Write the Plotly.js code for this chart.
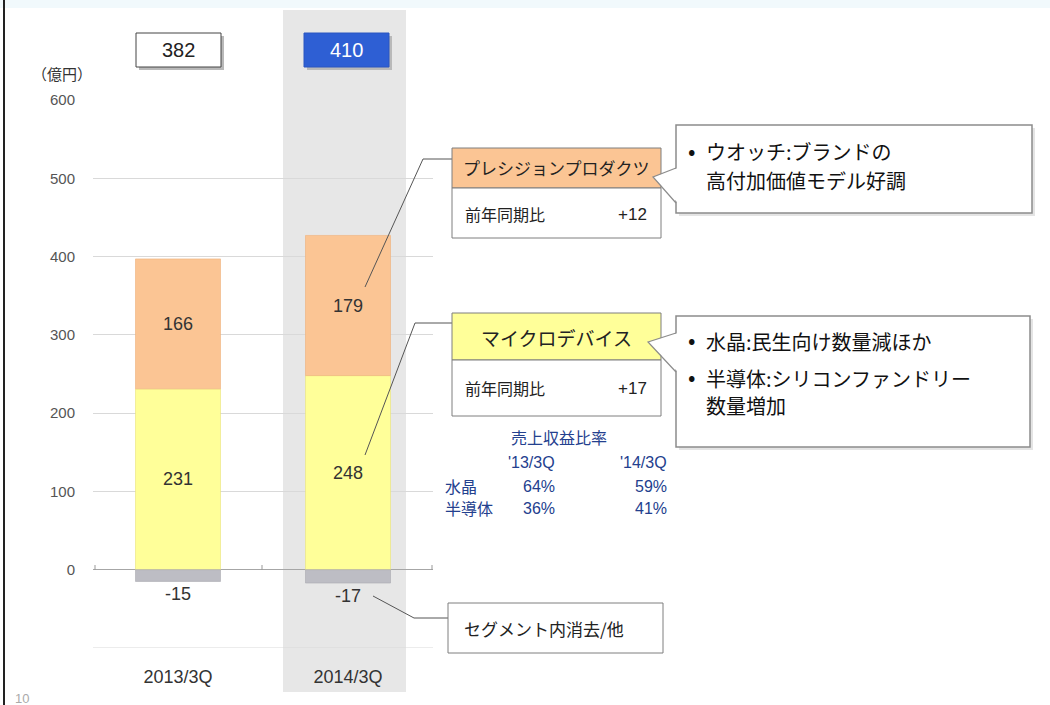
<!DOCTYPE html>
<html>
<head>
<meta charset="utf-8">
<script src="https://cdn.plot.ly/plotly-3.0.1.min.js"></script>
<style>html,body{margin:0;padding:0;background:#fff;}#chart{width:1050px;height:705px;}</style>
</head>
<body>
<div id="chart"></div>
<script>
// ---- data ----
const categories = ['2013/3Q', '2014/3Q'];
const microDevices = [231, 248];
const precisionProducts = [166, 179];
const elimination = [-15, -17];
const totals = [382, 410];
const yTickVals = [-100, 0, 100, 200, 300, 400, 500, 600];
const yTickText = ['', '0', '100', '200', '300', '400', '500', '600'];
const yUnit = '（億円）';
const segPrecision = 'プレシジョンプロダクツ';
const segMicro = 'マイクロデバイス';
const yoyLabel = '前年同期比';
const yoyPrecision = '+12';
const yoyMicro = '+17';
const noteElim = 'セグメント内消去/他';
const notePrecision = ['ウオッチ:ブランドの', '高付加価値モデル好調'];
const noteMicro = ['水晶:民生向け数量減ほか', '半導体:シリコンファンドリー', '数量増加'];
const ratioTitle = '売上収益比率';
const ratioCols = ["'13/3Q", "'14/3Q"];
const ratioRows = ['水晶', '半導体'];
const ratioVals = [['64%', '59%'], ['36%', '41%']];
const pageNo = '10';

// ---- layout helpers (pixel -> paper) ----
const L = 93, R = 433, T = 100, B = 648;
const PX = x => (x - L) / (R - L);
const PY = y => (B - y) / (B - T);
const FONT = 'Liberation Sans, Arial, Noto Sans CJK JP, sans-serif';
const JFONT = 'Noto Sans CJK JP, sans-serif';

const traces = [
  {type: 'bar', name: 'マイクロデバイス', x: categories, y: microDevices, width: 0.5,
   marker: {color: '#ffff99', line: {color: '#e9e27a', width: 0.6}},
   text: microDevices.map(String), textposition: 'inside', insidetextanchor: 'middle',
   textfont: {family: FONT, size: 18, color: '#333'}, hoverinfo: 'x+y'},
  {type: 'bar', name: 'プレシジョンプロダクツ', x: categories, y: precisionProducts, width: 0.5,
   marker: {color: '#fbc594', line: {color: '#efb07a', width: 0.6}},
   text: precisionProducts.map(String), textposition: 'inside', insidetextanchor: 'middle',
   textfont: {family: FONT, size: 18, color: '#333'}, hoverinfo: 'x+y'},
  {type: 'bar', name: 'セグメント内消去/他', x: categories, y: elimination, width: 0.5,
   marker: {color: '#bdbdc4', line: {color: '#a9a9b0', width: 0.6}},
   text: elimination.map(String), textposition: 'outside', cliponaxis: false,
   textfont: {family: FONT, size: 18, color: '#333'}, hoverinfo: 'x+y'}
];

const shapes = [];
const ann = [];
function rect(x0, y0, x1, y1, fill, line, lw, layer) {
  shapes.push({type: 'rect', xref: 'paper', yref: 'paper', x0: PX(x0), x1: PX(x1), y0: PY(y1), y1: PY(y0),
    fillcolor: fill, line: {color: line || 'rgba(0,0,0,0)', width: lw === undefined ? 1 : lw}, layer: layer || 'above'});
}
function path(pts, color, w, fill) {
  const d = pts.map((p, i) => (i ? 'L' : 'M') + PX(p[0]) + ',' + PY(p[1])).join(' ') + (fill ? ' Z' : '');
  shapes.push({type: 'path', xref: 'paper', yref: 'paper', path: d,
    line: {color: color || 'rgba(0,0,0,0)', width: w || 0}, fillcolor: fill || 'rgba(0,0,0,0)', layer: 'above'});
}
function text(t, x, y, xa, size, color, family) {
  ann.push({text: t, xref: 'paper', yref: 'paper', x: PX(x), y: PY(y), xanchor: xa || 'left', yanchor: 'middle',
    showarrow: false, font: {family: family || JFONT, size: size, color: color || '#222'}});
}

// background decorations
rect(0, 0, 1050, 8, '#f1f9fc', null, 0, 'below');
rect(283, 10, 406, 692, '#e7e7e7', null, 0, 'below');
shapes.push({type: 'line', xref: 'paper', yref: 'paper', x0: PX(4), x1: PX(4), y0: PY(0), y1: PY(705), line: {color: '#222', width: 2}});
// bottom gridline at -100
shapes.push({type: 'line', xref: 'paper', yref: 'y', x0: 0, x1: 1, y0: -100, y1: -100, line: {color: '#d9d9d9', width: 1}, layer: 'below'});
// small ticks on zero line
[95, 262, 432].forEach(x => shapes.push({type: 'line', xref: 'paper', yref: 'paper', x0: PX(x), x1: PX(x), y0: PY(570), y1: PY(565), line: {color: '#999', width: 1}}));

// total boxes
const totalBoxes = [{x0: 136, x1: 221, bg: '#ffffff', fg: '#222', bd: '#444'}, {x0: 304, x1: 389, bg: '#2e5fd4', fg: '#ffffff', bd: '#2a56c0'}];
totalBoxes.forEach((b, i) => {
  rect(b.x0 + 3, 36, b.x1 + 3, 70, '#b9b9b9', null, 0);
  rect(b.x0, 33, b.x1, 67, b.bg, b.bd, 1);
  text(String(totals[i]), (b.x0 + b.x1) / 2, 50, 'center', 20, b.fg, FONT);
});

// y unit
text(yUnit, 62, 73, 'center', 15, '#333');

// leader lines
path([[365, 287], [423, 159], [452, 159]], '#555', 1);
path([[365, 455], [415, 323], [452, 323]], '#555', 1);
path([[373, 596], [414, 618], [448, 618]], '#555', 1);

// precision products box
rect(452, 148, 661, 188, '#fbc594', '#7f7f7f', 1);
rect(452, 188, 661, 238, '#ffffff', '#7f7f7f', 1);
text(segPrecision, 556, 168, 'center', 17, '#222');
text(yoyLabel, 463, 214, 'left', 16, '#222');
text(yoyPrecision, 649, 214, 'right', 17, '#222', FONT);

// callout 1
rect(679, 128, 1035, 216, '#e4e4e4', null, 0);
rect(676, 125, 1032, 213, '#ffffff', '#8c8c8c', 1.5);
path([[678, 168], [653, 177], [678, 203]], null, 0, '#ffffff');
path([[676, 168], [653, 177], [676, 203]], '#8c8c8c', 1.2);
text('•', 686, 149, 'left', 22, '#111');
text(notePrecision[0], 704, 151, 'left', 20, '#111');
text(notePrecision[1], 704, 180, 'left', 20, '#111');

// micro devices box
rect(452, 313, 661, 360, '#ffff99', '#7f7f7f', 1);
rect(452, 360, 661, 416, '#ffffff', '#7f7f7f', 1);
text(segMicro, 556, 337, 'center', 19, '#222');
text(yoyLabel, 463, 388, 'left', 16, '#222');
text(yoyMicro, 649, 388, 'right', 17, '#222', FONT);

// callout 2
rect(679, 319, 1033, 450, '#e4e4e4', null, 0);
rect(676, 316, 1030, 447, '#ffffff', '#8c8c8c', 1.5);
path([[678, 333], [648, 342], [678, 372]], null, 0, '#ffffff');
path([[676, 333], [648, 342], [676, 372]], '#8c8c8c', 1.2);
text('•', 686, 338, 'left', 22, '#111');
text(noteMicro[0], 704, 341, 'left', 20, '#111');
text('•', 686, 375, 'left', 22, '#111');
text(noteMicro[1], 704, 378, 'left', 20, '#111');
text(noteMicro[2], 704, 406, 'left', 20, '#111');

// ratio table
const BLUE = '#23408e';
text(ratioTitle, 559, 437, 'center', 16, BLUE);
text(ratioCols[0], 557, 462, 'right', 16, BLUE, FONT);
text(ratioCols[1], 669, 462, 'right', 16, BLUE, FONT);
ratioRows.forEach((r, i) => {
  const y = 486 + i * 22;
  text(r, 443, y, 'left', 16, BLUE);
  text(ratioVals[i][0], 557, y, 'right', 16, BLUE, FONT);
  text(ratioVals[i][1], 669, y, 'right', 16, BLUE, FONT);
});

// elimination box
rect(448, 603, 663, 653, '#ffffff', '#7f7f7f', 1);
text(noteElim, 462, 628, 'left', 17, '#222');

// page number
text(pageNo, 13, 698, 'left', 13, '#aaa', FONT);

const layout = {
  width: 1050, height: 705,
  margin: {l: L, r: 1050 - R, t: T, b: 705 - B, pad: 0},
  paper_bgcolor: '#ffffff', plot_bgcolor: 'rgba(0,0,0,0)',
  barmode: 'relative', showlegend: false,
  font: {family: FONT, color: '#333'},
  xaxis: {type: 'category', range: [-0.5, 1.5], showgrid: false, zeroline: false, showline: false,
    ticks: 'outside', ticklen: 12, tickcolor: 'rgba(0,0,0,0)',
    tickfont: {family: FONT, size: 18, color: '#333'}, fixedrange: true},
  yaxis: {range: [-100, 600], tickvals: yTickVals, ticktext: yTickText, showgrid: true,
    gridcolor: '#d9d9d9', gridwidth: 1, zeroline: true, zerolinecolor: '#a6a6a6', zerolinewidth: 1,
    showline: false, ticks: 'outside', ticklen: 14, tickcolor: 'rgba(0,0,0,0)',
    tickfont: {family: FONT, size: 15, color: '#555'}, fixedrange: true},
  shapes: shapes, annotations: ann
};

Plotly.newPlot('chart', traces, layout, {displayModeBar: false, staticPlot: true});
</script>
</body>
</html>
